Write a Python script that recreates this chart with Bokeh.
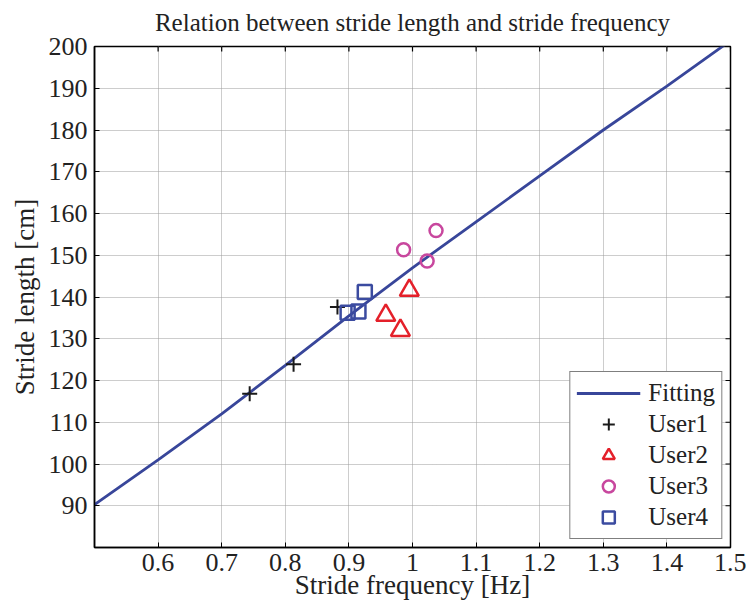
from bokeh.plotting import figure
from bokeh.models import (Range1d, FixedTicker, Legend, LegendItem, Title)
from bokeh.embed import file_html
from bokeh.resources import INLINE

# ---- data ----
fit_x = [0.5, 0.6, 0.7, 0.8, 0.9, 1.0, 1.1, 1.2, 1.3, 1.4, 1.5]
fit_y = [90.3, 101.0, 112.0, 123.6, 135.5, 147.0, 158.0, 169.0, 180.0, 190.5, 201.4]

user1_x = [0.744, 0.813, 0.882]
user1_y = [116.8, 123.9, 137.6]
user2_x = [0.995, 0.958, 0.981]
user2_y = [141.6, 135.6, 132.0]
user3_x = [0.986, 1.037, 1.023]
user3_y = [151.3, 155.9, 148.6]
user4_x = [0.925, 0.898, 0.915]
user4_y = [141.2, 136.2, 136.5]

x_ticks = [0.6, 0.7, 0.8, 0.9, 1.0, 1.1, 1.2, 1.3, 1.4, 1.5]
x_tick_labels = ["0.6", "0.7", "0.8", "0.9", "1", "1.1", "1.2", "1.3", "1.4", "1.5"]
y_ticks = [90, 100, 110, 120, 130, 140, 150, 160, 170, 180, 190, 200]

FONT = "Liberation Serif"
X0, X1, Y0, Y1 = 0.5, 1.5, 80, 200
FW, FH = 636, 501

p = figure(frame_width=FW, frame_height=FH,
           min_border_left=94, min_border_right=16, min_border_top=46, min_border_bottom=64,
           x_range=Range1d(X0, X1), y_range=Range1d(Y0, Y1),
           output_backend="svg", toolbar_location=None,
           background_fill_color="white", border_fill_color="white")

p.title = Title(text="Relation between stride length and stride frequency", align="center",
                vertical_align="top",
                text_font=FONT, text_font_size="25px", text_font_style="normal",
                text_color="#222222", standoff=17)

p.outline_line_color = "black"
p.outline_line_width = 1.5

for ax in (p.xaxis[0], p.yaxis[0]):
    ax.major_label_text_font = FONT
    ax.major_label_text_font_size = "26px"
    ax.major_label_text_color = "#222222"
    ax.axis_label_text_font = FONT
    ax.axis_label_text_font_size = "27px"
    ax.axis_label_text_font_style = "normal"
    ax.axis_label_text_color = "#222222"
    ax.major_tick_in = 5
    ax.major_tick_out = 0
    ax.minor_tick_in = 0
    ax.minor_tick_out = 0
    ax.axis_line_width = 1.5

p.xaxis[0].ticker = FixedTicker(ticks=x_ticks)
p.xaxis[0].major_label_overrides = {t: s for t, s in zip(x_ticks, x_tick_labels)}
p.yaxis[0].ticker = FixedTicker(ticks=y_ticks)
p.xaxis[0].axis_label = "Stride frequency [Hz]"
p.yaxis[0].axis_label = "Stride length [cm]"
p.xaxis[0].major_label_standoff = 6
p.yaxis[0].major_label_standoff = 7
p.xaxis[0].axis_label_standoff = -4
p.yaxis[0].axis_label_standoff = 6

p.xgrid.ticker = FixedTicker(ticks=x_ticks)
p.ygrid.ticker = FixedTicker(ticks=y_ticks)
for g in (p.xgrid[0], p.ygrid[0]):
    g.grid_line_color = "#9a9a9a"
    g.grid_line_dash = "1 1"
    g.grid_line_width = 1

# mirrored inward ticks on top and right edges (5 px long)
tick_dy = 5 * (Y1 - Y0) / FH
tick_dx = 5 * (X1 - X0) / FW
p.segment(x0=x_ticks, y0=[Y1] * len(x_ticks), x1=x_ticks, y1=[Y1 - tick_dy] * len(x_ticks),
          line_color="black", line_width=1.2)
p.segment(x0=[X1] * len(y_ticks), y0=y_ticks, x1=[X1 - tick_dx] * len(y_ticks), y1=y_ticks,
          line_color="black", line_width=1.2)

r_fit = p.line(fit_x, fit_y, line_color="#38469a", line_width=2.8)
r1 = p.scatter(user1_x, user1_y, marker="cross", size=15, line_color="#1a1a1a", line_width=2)
r2 = p.scatter(user2_x, user2_y, marker="triangle", size=19, line_color="#e4202a",
               fill_color=None, line_width=2.5)
r3 = p.scatter(user3_x, user3_y, marker="circle", size=13, line_color="#c8479e",
               fill_color=None, line_width=2.5)
r4 = p.scatter(user4_x, user4_y, marker="square", size=14, line_color="#3b4ba0",
               fill_color=None, line_width=2.5)

legend = Legend(items=[
    LegendItem(label="Fitting", renderers=[r_fit]),
    LegendItem(label="User1", renderers=[r1]),
    LegendItem(label="User2", renderers=[r2]),
    LegendItem(label="User3", renderers=[r3]),
    LegendItem(label="User4", renderers=[r4]),
], location="bottom_right")
legend.label_text_font = FONT
legend.label_text_font_size = "25px"
legend.label_text_color = "#222222"
legend.border_line_color = "black"
legend.border_line_width = 1.5
legend.background_fill_color = "white"
legend.background_fill_alpha = 1.0
legend.glyph_width = 64
legend.glyph_height = 30
legend.label_height = 30
legend.label_standoff = 8
legend.spacing = 1
legend.padding = 6
legend.margin = 8
p.add_layout(legend, "center")

open("out.html", "w").write(file_html(p, INLINE))
